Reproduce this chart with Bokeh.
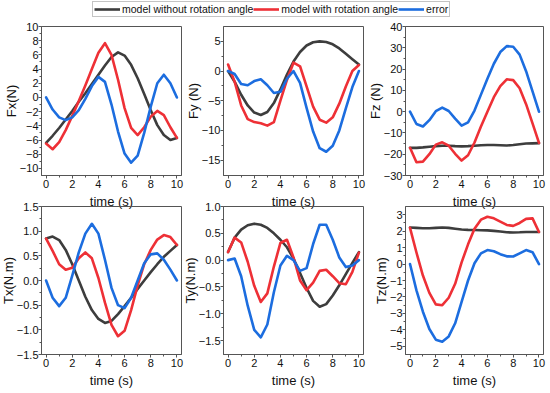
from bokeh.plotting import figure
from bokeh.layouts import column, row
from bokeh.models import FixedTicker, Legend, LegendItem, Range1d
from bokeh.embed import file_html
from bokeh.resources import INLINE

# ---------------- data ----------------
t = [0, 0.5, 1, 1.5, 2, 2.5, 3, 3.5, 4, 4.5, 5, 5.5, 6, 6.5, 7, 7.5, 8, 8.5, 9, 9.5, 10]

series_names = ["model without rotation angle", "model with rotation angle", "error"]

fx_black = [-6.4, -5.4, -4.3, -3.1, -1.9, -0.6, 0.6, 1.9, 3.2, 4.5, 5.7, 6.35, 5.9, 4.6, 2.7, 0.5, -1.8, -3.9, -5.3, -6.0, -5.7]
fx_red = [-6.5, -7.3, -6.3, -4.6, -2.6, -0.5, 1.7, 4.0, 6.3, 7.65, 6.0, 2.5, -1.5, -4.3, -5.3, -4.2, -2.7, -1.9, -2.5, -4.2, -5.7]
fx_blue = [0.0, -1.7, -2.8, -3.2, -2.8, -1.8, -0.2, 1.6, 2.9, 2.2, -1.0, -4.8, -7.9, -9.2, -8.2, -5.0, -1.3, 2.0, 3.2, 2.0, 0.0]

fy_black = [0.0, -1.8, -4.0, -5.8, -7.0, -7.4, -6.9, -5.4, -3.1, -0.6, 1.6, 3.2, 4.3, 4.85, 5.0, 4.9, 4.5, 3.8, 2.9, 2.0, 1.1]
fy_red = [1.1, -1.8, -5.8, -8.1, -8.6, -8.8, -9.2, -8.6, -5.0, -1.5, 1.4, 0.8, -2.6, -6.0, -8.2, -8.7, -7.8, -5.5, -2.6, 0.0, 1.0]
fy_blue = [0.0, -0.5, -2.2, -2.4, -1.7, -1.4, -2.4, -3.7, -3.5, -1.3, 0.0, -2.0, -6.2, -10.2, -13.0, -13.6, -12.6, -10.0, -6.3, -2.7, 0.0]

fz_black = [-17.0, -17.0, -16.8, -16.5, -16.2, -16.0, -16.0, -16.2, -16.3, -16.2, -16.0, -15.8, -15.7, -15.7, -15.8, -15.9, -15.7, -15.3, -15.0, -14.9, -14.8]
fz_red = [-17.0, -23.8, -23.5, -20.0, -15.5, -14.4, -16.0, -19.8, -23.0, -20.5, -14.5, -7.0, 0.0, 6.8, 12.0, 15.2, 14.8, 11.0, 3.5, -5.5, -14.7]
fz_blue = [0.0, -5.8, -7.0, -4.0, 0.2, 1.9, 0.3, -3.3, -6.6, -5.0, 0.5, 8.0, 15.5, 22.5, 28.0, 30.8, 30.5, 26.8, 19.0, 9.5, 0.0]

tx_black = [0.85, 0.89, 0.82, 0.62, 0.33, 0.0, -0.33, -0.6, -0.78, -0.86, -0.82, -0.68, -0.52, -0.35, -0.17, 0.0, 0.17, 0.33, 0.48, 0.6, 0.72]
tx_red = [0.85, 0.6, 0.33, 0.22, 0.26, 0.45, 0.57, 0.45, 0.05, -0.45, -0.9, -1.13, -1.02, -0.6, -0.1, 0.33, 0.62, 0.83, 0.92, 0.88, 0.72]
tx_blue = [0.0, -0.35, -0.52, -0.35, 0.1, 0.57, 0.95, 1.15, 0.95, 0.42, -0.15, -0.5, -0.56, -0.35, 0.0, 0.35, 0.53, 0.55, 0.42, 0.22, 0.0]

ty_black = [0.15, 0.42, 0.57, 0.65, 0.68, 0.66, 0.6, 0.5, 0.38, 0.24, 0.03, -0.24, -0.52, -0.76, -0.87, -0.82, -0.66, -0.47, -0.26, -0.05, 0.15]
ty_red = [0.15, 0.42, 0.33, -0.03, -0.48, -0.78, -0.62, -0.12, 0.32, 0.38, 0.05, -0.38, -0.56, -0.42, -0.2, -0.18, -0.3, -0.43, -0.45, -0.22, 0.14]
ty_blue = [0.0, 0.03, -0.3, -0.85, -1.3, -1.44, -1.2, -0.6, -0.1, 0.08, 0.0, -0.2, -0.15, 0.3, 0.66, 0.66, 0.38, 0.05, -0.13, -0.1, 0.0]

tz_black = [2.22, 2.2, 2.18, 2.18, 2.2, 2.22, 2.2, 2.15, 2.1, 2.08, 2.07, 2.06, 2.05, 2.02, 1.98, 1.93, 1.92, 1.93, 1.95, 1.95, 1.95]
tz_red = [2.2, 0.7, -0.7, -1.75, -2.45, -2.5, -2.05, -1.2, 0.1, 1.2, 2.15, 2.7, 2.88, 2.78, 2.58, 2.38, 2.32, 2.5, 2.75, 2.78, 1.95]
tz_blue = [0.0, -1.6, -2.9, -3.95, -4.6, -4.72, -4.4, -3.6, -2.3, -1.0, 0.05, 0.65, 0.85, 0.78, 0.6, 0.47, 0.46, 0.65, 0.85, 0.72, 0.0]

x_ticks = [0, 2, 4, 6, 8, 10]
x_minor = [1, 3, 5, 7, 9]
x_labels = ["0", "2", "4", "6", "8", "10"]
x_title = "time (s)"

fx_ticks = [-10, -8, -6, -4, -2, 0, 2, 4, 6, 8, 10]
fx_labels = ["\u221210", "\u22128", "\u22126", "\u22124", "\u22122", "0", "2", "4", "6", "8", "10"]
fy_ticks = [-15, -10, -5, 0, 5]
fy_labels = ["\u221215", "\u221210", "\u22125", "0", "5"]
fz_ticks = [-30, -20, -10, 0, 10, 20, 30, 40]
fz_labels = ["\u221230", "\u221220", "\u221210", "0", "10", "20", "30", "40"]
tx_ticks = [-1.5, -1.0, -0.5, 0.0, 0.5, 1.0, 1.5]
tx_labels = ["\u22121.5", "\u22121.0", "\u22120.5", "0.0", "0.5", "1.0", "1.5"]
ty_ticks = [-1.5, -1.0, -0.5, 0.0, 0.5, 1.0]
ty_labels = ["\u22121.5", "\u22121.0", "\u22120.5", "0.0", "0.5", "1.0"]
tz_ticks = [-5, -4, -3, -2, -1, 0, 1, 2, 3]
tz_labels = ["\u22125", "\u22124", "\u22123", "\u22122", "\u22121", "0", "1", "2", "3"]

# ---------------- style ----------------
FONT = "Liberation Sans"
COLORS = ["#3d3d3d", "#ee3036", "#1c6ddf"]
LW = 2.6
FRAME = "#555555"
BL = 60   # fixed left border (larger than any axis needs)
BT = 10   # fixed top border


def minor_between(ticks):
    out = []
    for a, b in zip(ticks[:-1], ticks[1:]):
        out.append((a + b) / 2.0)
    return out


def make_panel(ylabel, yr, yticks, ylabels, ys, fw, br, fh, bb):
    p = figure(frame_width=fw, frame_height=fh,
               min_border_left=BL, min_border_right=br,
               min_border_top=BT, min_border_bottom=bb,
               x_range=Range1d(-0.35, 10.35), y_range=Range1d(*yr),
               output_backend="svg", toolbar_location=None)
    p.border_fill_alpha = 0
    p.background_fill_alpha = 0
    p.grid.visible = False
    p.outline_line_color = FRAME
    p.outline_line_width = 1
    for ax in (p.xaxis[0], p.yaxis[0]):
        ax.axis_line_color = FRAME
        ax.major_tick_line_color = FRAME
        ax.minor_tick_line_color = FRAME
        ax.major_tick_in = 0
        ax.major_tick_out = 3
        ax.minor_tick_in = 0
        ax.minor_tick_out = 2
        ax.major_label_text_font = FONT
        ax.major_label_text_font_size = "11px"
        ax.major_label_text_color = "#111111"
        ax.axis_label_text_font = FONT
        ax.axis_label_text_font_size = "13px"
        ax.axis_label_text_font_style = "normal"
        ax.axis_label_text_color = "#111111"
    p.xaxis.major_label_standoff = 1
    p.xaxis.axis_label_standoff = 3
    p.yaxis.major_label_standoff = 0
    p.yaxis.axis_label_standoff = -2
    p.xaxis.ticker = FixedTicker(ticks=x_ticks, minor_ticks=x_minor)
    p.xaxis.major_label_overrides = dict(zip(x_ticks, x_labels))
    p.xaxis.axis_label = x_title
    p.yaxis.ticker = FixedTicker(ticks=yticks, minor_ticks=minor_between(yticks))
    p.yaxis.major_label_overrides = dict(zip(yticks, ylabels))
    p.yaxis.axis_label = ylabel
    for y, c in zip(ys, COLORS):
        p.line(t, y, line_color=c, line_width=LW, line_join="round", line_cap="round")
    return p


fx = make_panel("Fx(N)", (-11, 10), fx_ticks, fx_labels, [fx_black, fx_red, fx_blue], 140, 8, 149, 40)
fy = make_panel("Fy (N)", (-17.6, 7.5), fy_ticks, fy_labels, [fy_black, fy_red, fy_blue], 140, 8, 149, 40)
fz = make_panel("Fz (N)", (-30, 40), fz_ticks, fz_labels, [fz_black, fz_red, fz_blue], 138, 7, 149, 40)
tx = make_panel("Tx(N.m)", (-1.5, 1.5), tx_ticks, tx_labels, [tx_black, tx_red, tx_blue], 140, 8, 148, 36)
ty = make_panel("Ty(N.m)", (-1.76, 1.0), ty_ticks, ty_labels, [ty_black, ty_red, ty_blue], 140, 8, 148, 36)
tz = make_panel("Tz(N.m)", (-5.5, 3.5), tz_ticks, tz_labels, [tz_black, tz_red, tz_blue], 138, 7, 148, 36)

# frames: columns at x = 41, 223, 405 ; rows at y = 26, 206
fx.margin = (0, 0, 0, -19)
fy.margin = (0, 0, 0, -26)
fz.margin = (0, 0, 0, -26)
tx.margin = (0, 0, 0, -19)
ty.margin = (0, 0, 0, -26)
tz.margin = (0, 0, 0, -26)

# legend strip
lf = figure(width=550, height=20, min_border=0, x_range=Range1d(0, 1), y_range=Range1d(0, 1),
            output_backend="svg", toolbar_location=None)
lf.axis.visible = False
lf.grid.visible = False
lf.outline_line_color = None
lf.border_fill_alpha = 0
lf.background_fill_alpha = 0
items = []
for name, c in zip(series_names, COLORS):
    r = lf.line([-5, -4], [-5, -4], line_color=c, line_width=LW)
    items.append(LegendItem(label=name, renderers=[r]))
leg = Legend(items=items, location=(92, 3), orientation="horizontal",
             label_text_font=FONT, label_text_font_size="10.5px", label_text_color="#111111",
             glyph_width=26, glyph_height=12, label_height=12, label_standoff=2,
             spacing=0, padding=1, margin=0,
             border_line_color="#8a8a8a", border_line_width=1,
             background_fill_color="white", background_fill_alpha=1)
lf.add_layout(leg, "center")

row1 = row(fx, fy, fz)
row1.margin = (-4, 0, 0, 0)
row2 = row(tx, ty, tz)
row2.margin = (-19, 0, 0, 0)
root = column(lf, row1, row2)

open("out.html", "w").write(file_html(root, INLINE))
